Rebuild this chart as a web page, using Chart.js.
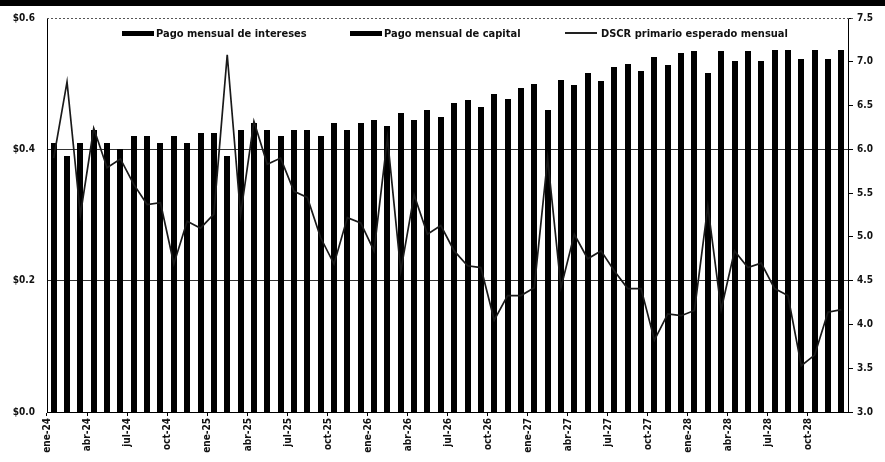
<!DOCTYPE html>
<html lang="es">
<head>
<meta charset="utf-8">
<script src="https://cdn.jsdelivr.net/npm/chart.js@4/dist/chart.umd.min.js"></script>
<style>
  html, body { margin: 0; padding: 0; background: #fff; }
  #wrap { position: relative; width: 885px; height: 462px; overflow: hidden; }
  #topbar { position: absolute; left: 0; top: 0; width: 885px; height: 6px; background: #000; }
  #chart { position: absolute; left: 0; top: 0; }
  .lg { position: absolute; top: 26px; height: 14px; display: flex; align-items: center;
        font: bold 11px 'Liberation Sans Narrow', 'DejaVu Sans Condensed', 'Liberation Sans', sans-serif;
        color: #111; white-space: nowrap; }
  .lg .sw { display: inline-block; width: 32px; height: 5px; background: #000; margin-right: 2px; }
  .lg .ln { display: inline-block; width: 32px; height: 1.5px; background: #222; margin-right: 4px; position: relative; }
</style>
</head>
<body>
<div id="wrap">
  <canvas id="chart" width="885" height="462"></canvas>
  <div id="topbar"></div>
  <div class="lg" style="left:122px"><span class="sw"></span>Pago mensual de intereses</div>
  <div class="lg" style="left:350px"><span class="sw"></span>Pago mensual de capital</div>
  <div class="lg" style="left:565px"><span class="ln"></span>DSCR primario esperado mensual</div>
</div>
<script>
// ─── DATA ─────────────────────────────────────────────────
const MONTHS = ['ene', 'feb', 'mar', 'abr', 'may', 'jun', 'jul', 'ago', 'sep', 'oct', 'nov', 'dic'];
const YEARS = ['24', '25', '26', '27', '28'];

// monthly interest payment ($ millions)
const interes = [
  0.30, 0.30, 0.30, 0.29, 0.29, 0.29, 0.29, 0.29, 0.28, 0.28, 0.28, 0.28,
  0.28, 0.27, 0.27, 0.27, 0.27, 0.26, 0.26, 0.26, 0.26, 0.26, 0.25, 0.25,
  0.25, 0.25, 0.25, 0.24, 0.24, 0.24, 0.24, 0.24, 0.23, 0.23, 0.23, 0.23,
  0.23, 0.22, 0.22, 0.22, 0.22, 0.22, 0.21, 0.21, 0.21, 0.21, 0.21, 0.20,
  0.20, 0.20, 0.20, 0.20, 0.19, 0.19, 0.19, 0.19, 0.19, 0.18, 0.18, 0.18,
];

// monthly principal payment ($ millions)
const capital = [
  0.11, 0.09, 0.11, 0.14, 0.12, 0.11, 0.13, 0.13, 0.13, 0.14, 0.13, 0.145,
  0.145, 0.12, 0.16, 0.17, 0.16, 0.16, 0.17, 0.17, 0.16, 0.18, 0.18, 0.19,
  0.195, 0.185, 0.205, 0.205, 0.22, 0.21, 0.23, 0.235, 0.235, 0.255, 0.247, 0.263,
  0.27, 0.24, 0.285, 0.278, 0.297, 0.284, 0.316, 0.32, 0.309, 0.331, 0.319, 0.346,
  0.35, 0.317, 0.35, 0.335, 0.36, 0.345, 0.362, 0.362, 0.347, 0.372, 0.357, 0.372,
];

// expected primary DSCR (x)
const dscr = [
  5.90, 6.77, 5.25, 6.24, 5.79, 5.89, 5.60, 5.37, 5.39, 4.69, 5.18, 5.10,
  5.26, 7.08, 5.25, 6.32, 5.83, 5.90, 5.52, 5.45, 4.99, 4.69, 5.22, 5.16,
  4.84, 6.13, 4.61, 5.48, 5.03, 5.13, 4.84, 4.67, 4.65, 4.05, 4.33, 4.33,
  4.42, 5.90, 4.42, 5.03, 4.75, 4.84, 4.61, 4.41, 4.41, 3.82, 4.12, 4.10,
  4.16, 5.35, 4.17, 4.84, 4.65, 4.70, 4.41, 4.33, 3.53, 3.65, 4.14, 4.17,
];

const labels = [];
YEARS.forEach(y => MONTHS.forEach(m => labels.push(m + '-' + y)));

// ─── STYLE ────────────────────────────────────────────────
const FONT = "'Liberation Sans Narrow', 'DejaVu Sans Condensed', 'Liberation Sans', sans-serif";
const INK = '#111';

// dotted line along the top of the plot area
const topDots = {
  id: 'topDots',
  afterDraw(chart) {
    const { ctx, chartArea: a } = chart;
    ctx.save();
    ctx.strokeStyle = '#555';
    ctx.lineWidth = 1;
    ctx.setLineDash([2, 2]);
    ctx.beginPath();
    ctx.moveTo(a.left, a.top + 0.5);
    ctx.lineTo(a.right + 6, a.top + 0.5);
    ctx.stroke();
    ctx.restore();
  },
};

// round bar edges to whole pixels so the two stacked blacks meet without a seam
const snapBars = {
  id: 'snapBars',
  afterDatasetsUpdate(chart) {
    chart.data.datasets.forEach((ds, i) => {
      const meta = chart.getDatasetMeta(i);
      if (meta.type !== 'bar') return;
      meta.data.forEach(el => {
        el.x = Math.round(el.x);
        el.y = Math.round(el.y);
        el.base = Math.round(el.base);
        el.width = Math.round(el.width);
      });
    });
  },
};

const barStyle = {
  backgroundColor: '#000',
  borderWidth: 0,
  inflateAmount: 0,
  stack: 'pago',
  barPercentage: 0.45,
  categoryPercentage: 1,
  order: 1,
};

new Chart(document.getElementById('chart'), {
  type: 'bar',
  data: {
    labels,
    datasets: [
      {
        type: 'line',
        label: 'DSCR primario esperado mensual',
        data: dscr,
        yAxisID: 'y1',
        borderColor: '#1a1a1a',
        borderWidth: 1.7,
        pointRadius: 0,
        tension: 0,
        order: 0,
      },
      { label: 'Pago mensual de intereses', data: interes, ...barStyle },
      { label: 'Pago mensual de capital', data: capital, ...barStyle },
    ],
  },
  options: {
    responsive: false,
    animation: false,
    layout: { padding: { top: 16, left: 0, right: 0, bottom: 0 } },
    plugins: {
      legend: { display: false },
      tooltip: { enabled: false },
    },
    scales: {
      x: {
        stacked: true,
        offset: true,
        afterFit: s => { s.height = 50; },
        grid: {
          offset: true,
          drawOnChartArea: false,
          drawTicks: true,
          tickLength: 4,
          color: c => (c.index % 3 === 0 ? '#000' : 'transparent'),
        },
        border: { color: '#000', width: 1 },
        ticks: {
          autoSkip: false,
          minRotation: 90,
          maxRotation: 90,
          padding: 2,
          labelOffset: -6,
          color: INK,
          font: { family: FONT, size: 10, weight: 'bold' },
          callback: (v, i) => (i % 3 === 0 ? labels[i] : ''),
        },
      },
      y: {
        stacked: true,
        position: 'left',
        min: 0,
        max: 0.6,
        afterFit: s => { s.width = 47; },
        grid: {
          drawTicks: false,
          color: c => (c.tick && (Math.abs(c.tick.value - 0.2) < 1e-6 || Math.abs(c.tick.value - 0.4) < 1e-6) ? '#333' : 'transparent'),
        },
        border: { color: '#000', width: 1 },
        ticks: {
          stepSize: 0.2,
          padding: 12,
          color: INK,
          font: { family: FONT, size: 10, weight: 'bold' },
          callback: v => '$' + v.toFixed(1),
        },
      },
      y1: {
        position: 'right',
        min: 3,
        max: 7.5,
        afterFit: s => { s.width = 37; },
        grid: { drawOnChartArea: false, drawTicks: true, tickLength: 5, color: '#000' },
        border: { color: '#000', width: 1 },
        ticks: {
          stepSize: 0.5,
          padding: 4,
          color: INK,
          font: { family: FONT, size: 10, weight: 'bold' },
          callback: v => v.toFixed(1),
        },
      },
    },
  },
  plugins: [snapBars, topDots],
});
</script>
</body>
</html>
